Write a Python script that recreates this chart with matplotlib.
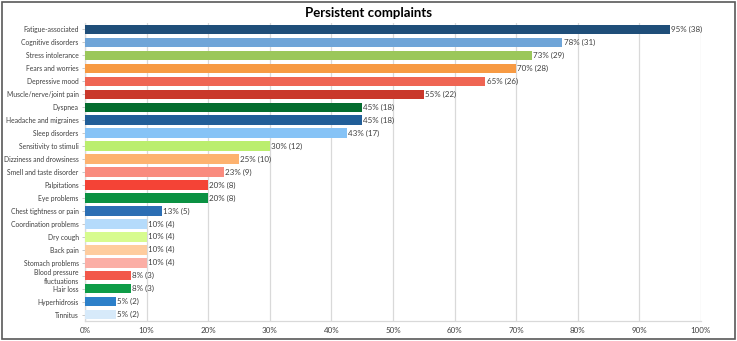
import matplotlib
matplotlib.use("Agg")
import matplotlib.pyplot as plt
from matplotlib.patches import Rectangle
import math

categories = ["Fatigue-associated", "Cognitive disorders", "Stress intolerance", "Fears and worries",
              "Depressive mood", "Muscle/nerve/joint pain", "Dyspnea", "Headache and migraines",
              "Sleep disorders", "Sensitivity to stimuli", "Dizziness and drowsiness",
              "Smell and taste disorder", "Palpitations", "Eye problems", "Chest tightness or pain",
              "Coordination problems", "Dry cough", "Back pain", "Stomach problems",
              "Blood pressure\nfluctuations", "Hair loss", "Hyperhidrosis", "Tinnitus"]
percent = [95, 77.5, 72.5, 70, 65, 55, 45, 45, 42.5, 30, 25, 22.5, 20, 20, 12.5,
           10, 10, 10, 10, 7.5, 7.5, 5, 5]
counts = [38, 31, 29, 28, 26, 22, 18, 18, 17, 12, 10, 9, 8, 8, 5, 4, 4, 4, 4, 3, 3, 2, 2]
colors = ["#1F4E79", "#6FA5D8", "#9BC75A", "#F79A43", "#EF6553", "#C9382B", "#046D2F",
          "#215E98", "#86C3F6", "#BBEE6E", "#FDB26F", "#F98B7E", "#F44336", "#0A9142",
          "#2B6EB4", "#B5DBFB", "#D7FB8E", "#FECC9E", "#FBAEA5", "#F2584A", "#0E9C47",
          "#2D80C9", "#D7EAFA"]
xticks = [0, 10, 20, 30, 40, 50, 60, 70, 80, 90, 100]
title = "Persistent complaints"

plt.rcParams['font.family'] = ['Lato', 'DejaVu Sans']
fig = plt.figure(figsize=(7.37, 3.41), dpi=100)
ax = fig.add_axes([0.1153, 0.058, 0.951 - 0.1153, 0.933 - 0.058])

y = list(range(len(categories)))
ax.barh(y, percent, height=0.72, color=colors, zorder=3)
for yi, p, c in zip(y, percent, counts):
    ax.text(p + 0.2, yi, f"{math.floor(p + 0.5)}% ({c})", va="center", ha="left",
            fontsize=5.8, color="#404040", zorder=4)

ax.set_ylim(len(categories) - 0.5, -0.5)
ax.set_xlim(0, 100)
ax.set_yticks(y)
ax.set_yticklabels(categories, fontsize=4.9, color="#404040", linespacing=1.2)
ax.set_xticks(xticks)
ax.set_xticklabels([f"{t}%" for t in xticks], fontsize=5.8, color="#404040")
ax.xaxis.grid(True, color="#D9D9D9", linewidth=0.9, zorder=0)
ax.tick_params(axis="x", length=0, pad=4)
ax.tick_params(axis="y", length=2, width=0.6, color="#BFBFBF", pad=2.5)
for s in ["top", "right"]:
    ax.spines[s].set_visible(False)
for s in ["left", "bottom"]:
    ax.spines[s].set_color("#D9D9D9")
    ax.spines[s].set_linewidth(0.9)

fig.text(0.5, 0.962, title, ha="center", va="center", fontsize=9.5, fontweight="bold",
         color="#000000")
fig.patches.append(Rectangle((0.003, 0.006), 0.994, 0.988, transform=fig.transFigure,
                             fill=False, edgecolor="#595959", linewidth=1.2))
fig.savefig("out.png", dpi=100)
